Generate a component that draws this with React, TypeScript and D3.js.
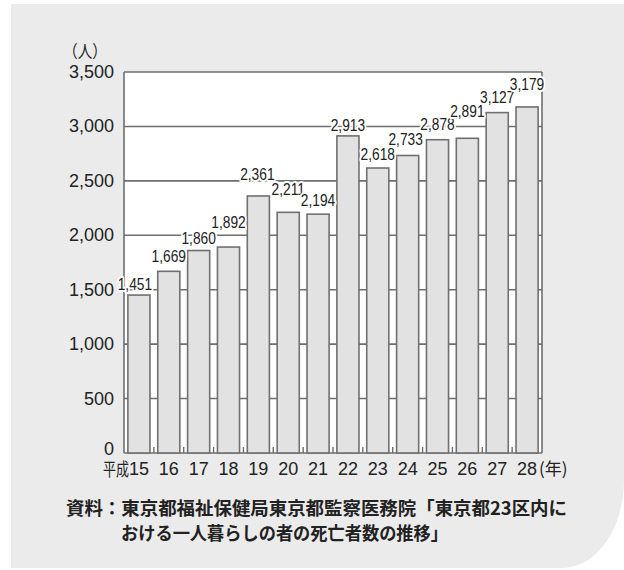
import React from "react";
import * as d3 from "d3";

const years = ["15", "16", "17", "18", "19", "20", "21", "22", "23", "24", "25", "26", "27", "28"];
const deaths = [1451, 1669, 1860, 1892, 2361, 2211, 2194, 2913, 2618, 2733, 2878, 2891, 3127, 3179];
const yTicks = [0, 500, 1000, 1500, 2000, 2500, 3000, 3500];
const unitLabel = "（人）";
const eraLabel = "平成";
const yearSuffix = "(年)";
const sourceLines = [
  "資料：東京都福祉保健局東京都監察医務院「東京都23区内に",
  "おける一人暮らしの者の死亡者数の推移」",
];

// layout: lift of each value label above its bar (px) and horizontal nudge
const labelLift = [5, 9, 7, 19, 16, 17, 8, 5, 8, 10, 10, 21, 10, 17];
const labelNudge = [-4, 0, 0, 0, -1, 0, 0, 0, 0, -2, 0, 0, 0, 0];

const W = 624;
const H = 570;
const plot = { left: 124, right: 542, top: 72, bottom: 453 };

export default function App() {
  const x = d3.scaleBand<string>().domain(years).range([plot.left, plot.right]).paddingInner(0.26).paddingOuter(0.13);
  const y = d3.scaleLinear().domain([0, 3500]).range([plot.bottom, plot.top]);
  const fmt = d3.format(",");
  const font = "'Liberation Sans', Arial, sans-serif";
  const jp = "'Noto Sans CJK JP', sans-serif";
  const boundaries = d3.range(1, years.length).map((i) => plot.left + (plot.right - plot.left) * i / years.length);
  const cx = (yr: string) => x(yr)! + x.bandwidth() / 2;

  return (
    <svg width={W} height={H} style={{ position: "absolute", left: 0, top: 0, display: "block" }}>
      <rect x={0} y={0} width={W} height={H} fill="#ffffff" />
      <path d={`M11,4 H${W} V480 A62,88 0 0 1 ${W - 62},568 H11 Z`} fill="#ebebeb" />
      <rect x={plot.left} y={plot.top} width={plot.right - plot.left} height={plot.bottom - plot.top} fill="#ffffff" />
      {yTicks.map((t) => (
        <line key={"g" + t} x1={plot.left} x2={plot.right} y1={y(t)} y2={y(t)} stroke="#6e6e6e" strokeWidth={1.6} />
      ))}
      <line x1={plot.left} x2={plot.left} y1={plot.top} y2={plot.bottom} stroke="#6e6e6e" strokeWidth={1.6} />
      <line x1={plot.right} x2={plot.right} y1={plot.top} y2={plot.bottom} stroke="#6e6e6e" strokeWidth={1.6} />
      {boundaries.map((b, i) => (
        <line key={"t" + i} x1={b} x2={b} y1={plot.bottom} y2={plot.bottom - 6} stroke="#6e6e6e" strokeWidth={1.4} />
      ))}
      {years.map((yr, i) => (
        <rect
          key={"b" + yr}
          x={x(yr)!}
          y={y(deaths[i])}
          width={x.bandwidth()}
          height={plot.bottom - y(deaths[i])}
          fill="#e2e2e2"
          stroke="#707070"
          strokeWidth={1.6}
        />
      ))}
      {years.map((yr, i) => (
        <text
          key={"v" + yr}
          transform={`translate(${cx(yr) + labelNudge[i]},${y(deaths[i]) - labelLift[i]}) scale(0.86,1)`}
          textAnchor="middle"
          fontFamily={font}
          fontSize={16}
          fill="#222"
          stroke="#ffffff"
          strokeWidth={4}
          paintOrder="stroke"
          strokeLinejoin="round"
        >
          {fmt(deaths[i])}
        </text>
      ))}
      {yTicks.map((t) => (
        <text key={"y" + t} x={plot.left - 10} y={y(t) + (t === 0 ? 2 : 6)} textAnchor="end" fontFamily={font} fontSize={18} fill="#222">
          {fmt(t)}
        </text>
      ))}
      <text x={63} y={58} fontFamily={jp} fontSize={17} textLength={44} lengthAdjust="spacingAndGlyphs" fill="#222">{unitLabel}</text>
      {years.map((yr) => (
        <text key={"x" + yr} x={cx(yr)} y={475} textAnchor="middle" fontFamily={font} fontSize={18} fill="#222">
          {yr}
        </text>
      ))}
      <text x={103} y={476} fontFamily={jp} fontSize={18} textLength={26} lengthAdjust="spacingAndGlyphs" fill="#222">{eraLabel}</text>
      <text x={cx(years[years.length - 1]) + 12} y={475} fontFamily={jp} fontSize={17} fill="#222">{yearSuffix}</text>
      <text x={66} y={515} fontFamily={jp} fontSize={18} fontWeight={700} textLength={501} lengthAdjust="spacingAndGlyphs" fill="#222">{sourceLines[0]}</text>
      <text x={121} y={540} fontFamily={jp} fontSize={18} fontWeight={700} textLength={327} lengthAdjust="spacingAndGlyphs" fill="#222">{sourceLines[1]}</text>
    </svg>
  );
}
